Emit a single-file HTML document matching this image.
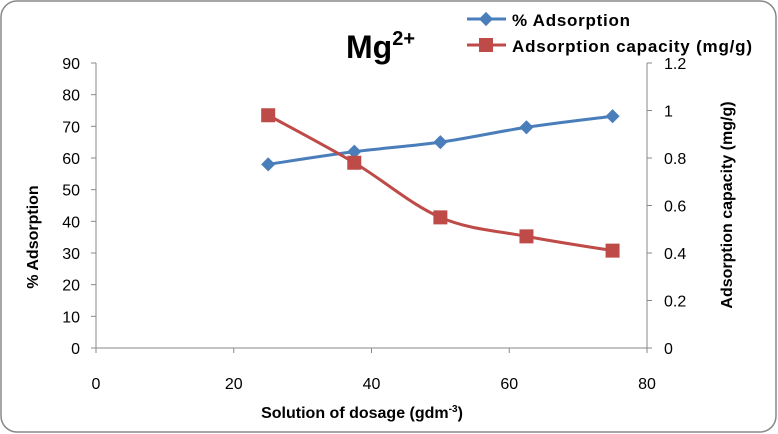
<!DOCTYPE html>
<html><head><meta charset="utf-8"><style>
body{margin:0;background:#fff;}
svg{display:block;font-family:"Liberation Sans",sans-serif;}
</style></head><body>
<svg width="778" height="434">
<rect x="1" y="1" width="775" height="431" rx="16" fill="#fff" stroke="#888" stroke-width="1.5"/>
<g id="axes"></g>
<g id="series"></g>
<text x="346" y="58" font-size="32" font-weight="bold">Mg<tspan font-size="20" dy="-13">2+</tspan></text>
<g>
<g>
<line x1="467" y1="19" x2="506" y2="19" stroke="#4a7ebb" stroke-width="3"/>
<rect x="481" y="14" width="10" height="10" fill="#4a7ebb" transform="rotate(45 486 19)"/>
<text x="512" y="26" font-size="17" font-weight="bold" textLength="118">% Adsorption</text></g>
<g>
<line x1="467" y1="45" x2="506" y2="45" stroke="#be4b48" stroke-width="3"/>
<rect x="479" y="38" width="14" height="14" fill="#be4b48"/>
<text x="512" y="52" font-size="17" font-weight="bold" textLength="240">Adsorption capacity (mg/g)</text></g>
</g>
<text x="362" y="418" font-size="16" font-weight="bold" text-anchor="middle">Solution of dosage (gdm<tspan font-size="10" dy="-6">-3</tspan><tspan dy="6">)</tspan></text>
<text transform="translate(38 237) rotate(-90)" font-size="16" font-weight="bold" text-anchor="middle">% Adsorption</text>
<text transform="translate(732 205) rotate(-90)" font-size="16" font-weight="bold" text-anchor="middle">Adsorption capacity (mg/g)</text>
</svg>
<script>
const xValues=[25,37.5,50,62.5,75];
const adsorption=[58,62,65,69.7,73.2];
const capacity=[0.98,0.78,0.55,0.47,0.41];
const xTicks=[0,20,40,60,80];
const yLeftTicks=[0,10,20,30,40,50,60,70,80,90];
const yRightTicks=["0","0.2","0.4","0.6","0.8","1","1.2"];
const X0=96,X1=647,Y0=348,Y1=63;
const sx=v=>X0+v/80*(X1-X0);
const syL=v=>Y0-v/90*(Y0-Y1);
const syR=v=>Y0-v/1.2*(Y0-Y1);
const NS="http://www.w3.org/2000/svg";
function mk(tag,attrs,parent){const e=document.createElementNS(NS,tag);for(const k in attrs)e.setAttribute(k,attrs[k]);parent.appendChild(e);return e;}
const ax=document.getElementById('axes');
let l=mk('line',{x1:X0,y1:Y0,x2:X1,y2:Y0,stroke:'#888'},ax);


l=mk('line',{x1:X0,y1:Y0,x2:X0,y2:Y1,stroke:'#888'},ax);


l=mk('line',{x1:X1,y1:Y0,x2:X1,y2:Y1,stroke:'#888'},ax);


xTicks.forEach(v=>{mk('line',{x1:sx(v),y1:Y0,x2:sx(v),y2:Y0+5,stroke:'#888'},ax);
const t=mk('text',{x:sx(v),y:389,'font-size':16,'text-anchor':'middle'},ax);t.textContent=v;

});
yLeftTicks.forEach(v=>{mk('line',{x1:X0-5,y1:syL(v),x2:X0,y2:syL(v),stroke:'#888'},ax);
const t=mk('text',{x:X0-16,y:syL(v)+6,'font-size':16,'text-anchor':'end'},ax);t.textContent=v;

});
yRightTicks.forEach(s=>{const v=parseFloat(s);mk('line',{x1:X1,y1:syR(v),x2:X1+5,y2:syR(v),stroke:'#888'},ax);
const t=mk('text',{x:X1+17,y:syR(v)+6,'font-size':16},ax);t.textContent=s;

});
function smooth(pts){let d=`M${pts[0][0]},${pts[0][1]}`;for(let i=0;i<pts.length-1;i++){const p0=pts[Math.max(i-1,0)],p1=pts[i],p2=pts[i+1],p3=pts[Math.min(i+2,pts.length-1)];
const c1=[p1[0]+(p2[0]-p0[0])/6,p1[1]+(p2[1]-p0[1])/6],c2=[p2[0]-(p3[0]-p1[0])/6,p2[1]-(p3[1]-p1[1])/6];
d+=` C${c1[0]},${c1[1]} ${c2[0]},${c2[1]} ${p2[0]},${p2[1]}`;}return d;}
const sg=document.getElementById('series');
const pb=xValues.map((x,i)=>[sx(x),syL(adsorption[i])]);
const pr=xValues.map((x,i)=>[sx(x),syR(capacity[i])]);
let p=mk('path',{d:smooth(pb),fill:'none',stroke:'#4a7ebb','stroke-width':3},sg);


p=mk('path',{d:smooth(pr),fill:'none',stroke:'#be4b48','stroke-width':3},sg);


pb.forEach(q=>{const m=mk('rect',{x:q[0]-5,y:q[1]-5,width:10,height:10,fill:'#4a7ebb',transform:`rotate(45 ${q[0]} ${q[1]})`},sg);

});
pr.forEach(q=>{const m=mk('rect',{x:q[0]-7,y:q[1]-7,width:14,height:14,fill:'#be4b48'},sg);

});
</script>
</body></html>
